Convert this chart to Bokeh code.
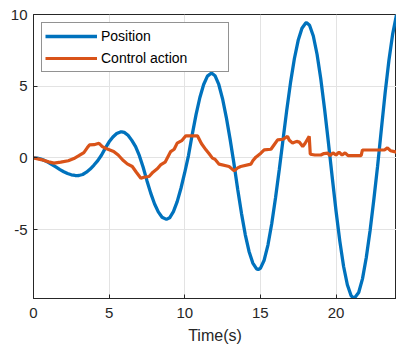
from bokeh.plotting import figure
from bokeh.models import Range1d, FixedTicker, Legend, LegendItem, PrintfTickFormatter
from bokeh.embed import file_html
from bokeh.resources import INLINE

# Position
t_pos = [0, 0.25, 0.5, 0.75, 1.0, 1.25, 1.5, 1.75, 2.0, 2.25, 2.5, 2.75, 2.9, 3.0, 3.25, 3.5, 3.75,
         4.0, 4.25, 4.5, 4.75, 5.0, 5.25, 5.5, 5.75, 5.83, 6.0, 6.25, 6.5, 6.75, 7.0, 7.25, 7.5,
         7.75, 8.0, 8.25, 8.5, 8.79, 9.0, 9.25, 9.5, 9.75, 10.0, 10.25, 10.5, 10.75, 11.0, 11.25,
         11.5, 11.77, 12.0, 12.25, 12.5, 12.75, 13.0, 13.25, 13.5, 13.75, 14.0, 14.25, 14.5, 14.75,
         14.86, 15.0, 15.25, 15.5, 15.75, 16.0, 16.25, 16.5, 16.75, 17.0, 17.25, 17.5, 17.75, 18.0,
         18.06, 18.25, 18.5, 18.75, 19.0, 19.25, 19.5, 19.75, 20.0, 20.25, 20.5, 20.75, 21.0, 21.2,
         21.5, 21.75, 22.0, 22.25, 22.5, 22.75, 23.0, 23.25, 23.5, 23.75, 24.0]
position = [0, -0.02, -0.09, -0.19, -0.33, -0.49, -0.65, -0.82, -0.97, -1.09, -1.18, -1.23, -1.24,
            -1.23, -1.16, -1.00, -0.78, -0.50, -0.19, 0.20, 0.68, 1.12, 1.46, 1.70, 1.81, 1.82,
            1.78, 1.58, 1.22, 0.78, 0.15, -0.66, -1.59, -2.46, -3.20, -3.77, -4.14, -4.29, -4.18,
            -3.75, -3.05, -2.12, -1.02, 0.18, 1.66, 3.03, 4.21, 5.12, 5.70, 5.92, 5.73, 5.12, 4.12,
            2.81, 1.29, -0.37, -2.19, -3.87, -5.35, -6.53, -7.34, -7.75, -7.79, -7.71, -7.14, -6.08,
            -4.60, -2.80, -0.81, 1.29, 3.38, 5.30, 6.93, 8.20, 9.04, 9.41, 9.42, 9.25, 8.50, 7.21,
            5.46, 3.36, 1.05, -1.35, -3.69, -5.79, -7.56, -8.85, -9.62, -9.81, -9.39, -8.44, -6.97,
            -5.10, -2.92, -0.58, 2.01, 4.55, 6.81, 8.65, 9.97]

# Control action
t_ctrl = [0, 0.5, 1.0, 1.35, 1.8, 2.3, 2.67, 3.0, 3.33, 3.55, 3.7, 4.0, 4.33, 4.55, 4.8, 5.3, 5.6,
          5.9, 6.2, 6.53, 6.8, 7.1, 7.3, 7.64, 7.9, 8.2, 8.4, 8.7, 9.07, 9.3, 9.5, 9.8, 10.07,
          10.84, 11.1, 11.4, 11.6, 11.83, 12.0, 12.27, 12.93, 13.1, 13.27, 13.5, 13.7, 14.37,
          14.5, 14.7, 15.03, 15.25, 15.7, 15.9, 16.14, 16.5, 16.8, 16.9, 17.13, 17.4, 17.57, 17.8,
          17.95, 18.23, 18.3, 18.6, 19.0, 19.2, 19.45, 19.6, 19.8, 20.0, 20.2, 20.4, 20.6, 20.8,
          21.0, 21.66, 21.75, 23.2, 23.4, 23.6, 24.0]
control = [0, -0.12, -0.28, -0.37, -0.30, -0.20, -0.05, 0.15, 0.37, 0.70, 0.90, 0.92, 1.02, 0.78,
           0.65, 0.45, 0.20, -0.15, -0.42, -0.60, -1.00, -1.42, -1.35, -1.30, -1.00, -0.75, -0.49,
           -0.30, 0.44, 0.60, 1.03, 1.20, 1.54, 1.54, 1.00, 0.56, 0.30, -0.02, -0.10, -0.44,
           -0.60, -0.75, -0.91, -0.70, -0.60, -0.44, -0.20, 0.05, 0.33, 0.56, 0.60, 0.90, 1.26,
           1.30, 1.50, 1.25, 1.03, 1.15, 1.10, 0.79, 1.00, 1.50, 0.25, 0.20, 0.20, 0.30, 0.33,
           0.15, 0.35, 0.20, 0.40, 0.20, 0.35, 0.15, 0.15, 0.15, 0.55, 0.55, 0.70, 0.50, 0.40]

x_ticks = [0, 5, 10, 15, 20]
y_ticks = [-5, 0, 5, 10]
x_label = "Time(s)"
series_names = ["Position", "Control action"]

FONT = "Liberation Sans"
DARK = "#262626"

p = figure(width=396, height=358, output_backend="svg", toolbar_location=None,
           x_range=Range1d(0, 24), y_range=Range1d(-9.81, 10),
           min_border_left=33, min_border_right=0, min_border_top=14, min_border_bottom=60)
p.background_fill_color = "white"
p.border_fill_color = "white"
p.outline_line_color = DARK
p.outline_line_width = 1

r_pos = p.line(t_pos, position, line_color="#0072BD", line_width=3.3)
r_ctrl = p.line(t_ctrl, control, line_color="#D95319", line_width=3.2)

xax = p.below[0]
yax = p.left[0]
for ax, ticks in ((xax, x_ticks), (yax, y_ticks)):
    ax.ticker = FixedTicker(ticks=ticks)
    ax.formatter = PrintfTickFormatter(format="%d")
    ax.major_tick_in = 4
    ax.major_tick_out = 0
    ax.minor_tick_in = 0
    ax.minor_tick_out = 0
    ax.axis_line_color = DARK
    ax.major_tick_line_color = DARK
    ax.major_label_text_font = FONT
    ax.major_label_text_font_size = "15px"
    ax.major_label_text_color = DARK

xax.major_label_standoff = 9
yax.major_label_standoff = 6
xax.axis_label = x_label
xax.axis_label_text_font = FONT
xax.axis_label_text_font_size = "16px"
xax.axis_label_text_font_style = "normal"
xax.axis_label_text_color = DARK
xax.axis_label_standoff = 6

p.xgrid.ticker = FixedTicker(ticks=x_ticks)
p.ygrid.ticker = FixedTicker(ticks=y_ticks)
p.grid.grid_line_color = "#e3e3e3"
p.grid.grid_line_width = 1

legend = Legend(items=[LegendItem(label=series_names[0], renderers=[r_pos]),
                       LegendItem(label=series_names[1], renderers=[r_ctrl])],
                location="top_left", margin=8, padding=3, spacing=2,
                label_height=20, glyph_height=20, glyph_width=52, label_standoff=4,
                label_width=124, label_text_font=FONT, label_text_font_size="14px",
                label_text_color="black", border_line_color=DARK, border_line_width=1,
                background_fill_color="white", background_fill_alpha=1.0)
p.add_layout(legend)

open("out.html", "w").write(file_html(p, INLINE))
